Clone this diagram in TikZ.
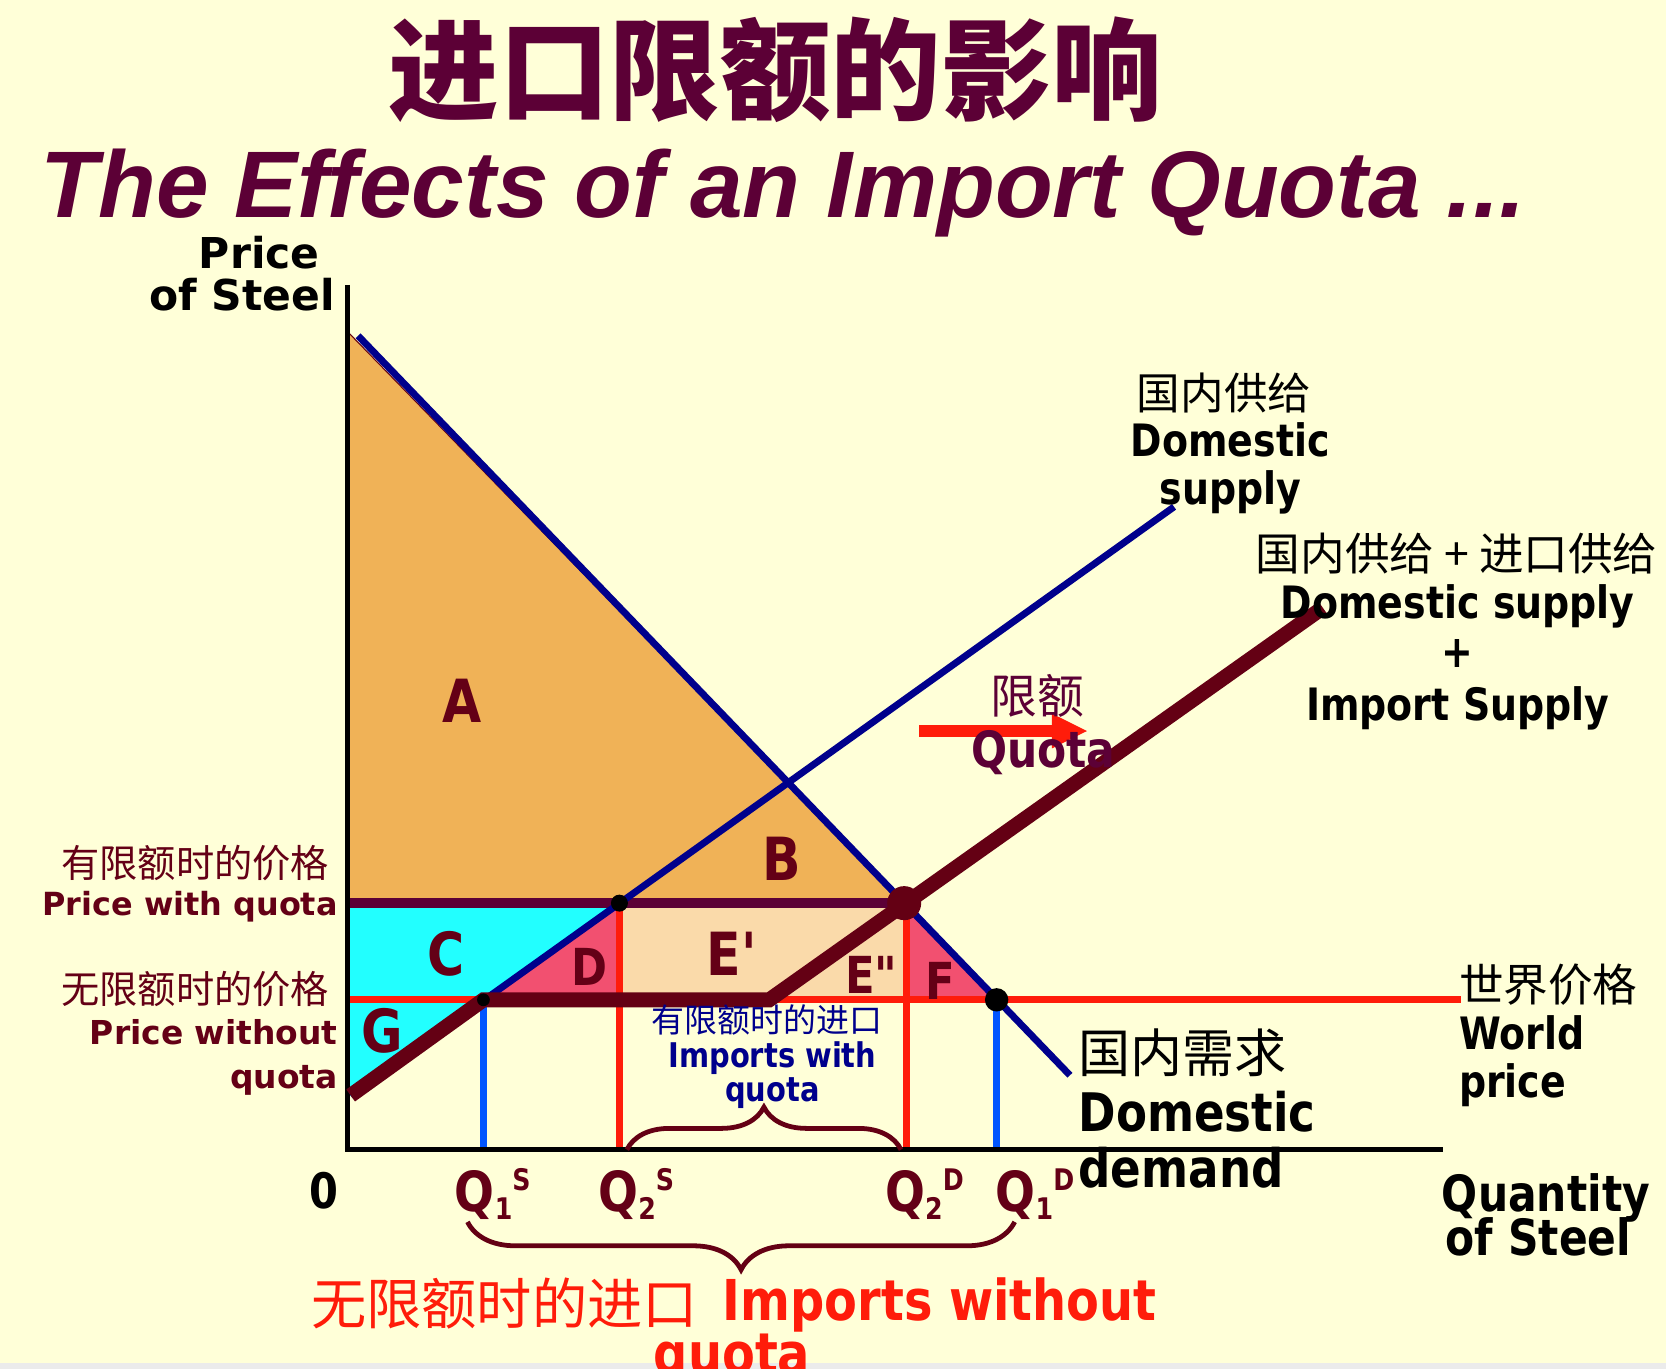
\documentclass[tikz,border=0pt]{standalone}
\usepackage{fontspec}
\setmainfont{DejaVu Sans}
\newfontfamily\tahoma{DejaVu Sans}[FakeStretch=0.85]
\newfontfamily\cjk{Noto Sans CJK SC}
\newfontfamily\arial{Liberation Sans}
\usetikzlibrary{arrows.meta,positioning,decorations.pathreplacing}

\definecolor{bgcol}{RGB}{255,255,216}
\definecolor{titlecol}{RGB}{92,0,54}
\definecolor{labelcol}{RGB}{100,0,22}
\definecolor{linemaroon}{RGB}{100,0,20}
\definecolor{navy}{RGB}{0,0,140}
\definecolor{wred}{RGB}{255,28,10}
\definecolor{qblue}{RGB}{0,85,255}
\definecolor{orangefill}{RGB}{240,178,87}
\definecolor{cyanfill}{RGB}{34,255,255}
\definecolor{pinkfill}{RGB}{242,80,112}
\definecolor{peachfill}{RGB}{250,218,170}

\newcommand{\fsz}[2]{\fontsize{#1}{#2}\selectfont}
\newcommand{\qlab}[2]{Q\raisebox{-8pt}{\fsz{28}{28}#1}\raisebox{20pt}{\fsz{28}{28}#2}}

\begin{document}
\begin{tikzpicture}[x=1pt,y=-1pt,
  every node/.style={inner sep=0pt},
  region/.style={font=\tahoma\bfseries\fsz{56}{56}, text=labelcol},
  smallregion/.style={font=\tahoma\bfseries\fsz{48}{48}, text=labelcol},
  qtick/.style={font=\tahoma\bfseries\fsz{52}{52}, text=labelcol, anchor=base west},
  cnlab/.style={font=\cjk\fsz{36}{36}},
  sidelab/.style={font=\bfseries\fsz{31}{31}, text=labelcol, anchor=base east},
  curvelab/.style={font=\tahoma\bfseries\fsz{42}{42}, anchor=base},
  axlab/.style={font=\tahoma\bfseries\fsz{47}{47}, anchor=base},
  thinline/.style={line width=7pt},
  impbrace/.style={decorate, decoration={brace, amplitude=40pt}, draw=linemaroon, line width=4.5pt}
]
\useasboundingbox (0,0) rectangle (1568,1288);
\fill[bgcol] (0,0) rectangle (1568,1288);
\fill[black!8] (0,1283) rectangle (1568,1288);

% key points of the diagram
\coordinate (O) at (327,1082);
\coordinate (ytop) at (327,268);
\coordinate (xend) at (1358,1082);
\coordinate (dA) at (337,316);
\coordinate (dB) at (1007,1012);
\coordinate (sA) at (330,1031);
\coordinate (sB) at (1105,477);
\coordinate (q1s) at (455,941);
\coordinate (q2s) at (583,850);
\coordinate (q2d) at (851,850);
\coordinate (q1d) at (938,941);
\coordinate (kink) at (724,941);
\coordinate (qsEnd) at (1245,572);
\coordinate (wpL) at (327,941);
\coordinate (wpR) at (1375,941);
\coordinate (pqL) at (327,850);

% surplus areas
\filldraw[fill=orangefill, draw=linemaroon, line width=1pt] (327,312) -- (q2d) -- (pqL) -- cycle;
\fill[cyanfill] (pqL) -- (q2s) -- (sA) -- (327,1036) -- cycle;
\fill[pinkfill] (q1s) -- (q2s) -- (q2s |- q1s) -- cycle;
\fill[peachfill] (q2s) rectangle (q2d |- q1s);
\fill[pinkfill] (q2d) -- (q1d) -- (q2d |- q1d) -- cycle;

% price lines and quantities
\draw[wred, line width=6.5pt] (wpL) -- (wpR);
\draw[qblue, thinline] (q1s) -- (q1s |- O);
\draw[wred, thinline] (q2s) -- (q2s |- O);
\draw[wred, thinline] ([xshift=2pt]q2d) -- ([xshift=2pt]q2d |- O);
\draw[qblue, thinline] (q1d) -- (q1d |- O);
\draw[titlecol, line width=9pt] (pqL) -- (q2d);

% axes
\draw[black, line width=4.5pt] (ytop) -- (O) -- (xend);

% curves
\draw[navy, line width=6.5pt] (dA) -- (dB);
\draw[navy, line width=6.5pt] (sA) -- (sB);
\draw[linemaroon, line width=14pt] (sA) -- (q1s) -- (kink) -- (qsEnd);

% equilibrium points
\fill (q2s) circle[radius=8pt];
\fill[linemaroon] (q2d) circle[radius=16pt];
\fill (q1d) circle[radius=11pt];
\fill (q1s) circle[radius=6pt];

% quota shift
\coordinate (qaStart) at (865,688);
\coordinate (qaEnd) at (1024,688);
\draw[wred, line width=11pt, -{Triangle[length=34pt,width=30pt]}] (qaStart) -- (qaEnd);

% braces
\coordinate (ibL) at (590,1082);
\coordinate (ibR) at (848,1082);
\draw[impbrace] (ibL) -- (ibR);
\coordinate (obL) at (440,1150);
\coordinate (obR) at (955,1150);
\draw[impbrace, decoration={amplitude=45pt}] (obR) -- (obL);

% titles
\node[font=\cjk\bfseries\fsz{104}{104}, text=titlecol] (titlecn) at (730,66) {进口限额的影响};
\node[font=\arial\bfseries\itshape\fsz{89}{89}, text=titlecol, anchor=base west] (titleen) at (38,205) {The Effects of an Import Quota ...};

% axis labels
\node[font=\bfseries\fsz{40}{40}, anchor=base] (ylabA) at (244,253) {Price};
\node[font=\bfseries\fsz{40}{40}, anchor=base] (ylabB) at (228,292) {of Steel};
\node[axlab] (xlabA) at (1455,1140) {Quantity};
\node[axlab] (xlabB) at (1448,1182) {of Steel};
\node[font=\tahoma\bfseries\fsz{46}{46}, anchor=base] (zero) at (305,1137) {0};
\node[qtick] (tq1s) at (428,1140) {\qlab{1}{S}};
\node[qtick] (tq2s) at (563,1140) {\qlab{2}{S}};
\node[qtick] (tq2d) at (833,1140) {\qlab{2}{D}};
\node[qtick] (tq1d) at (937,1140) {\qlab{1}{D}};

% price labels
\node[cnlab, text=labelcol, anchor=east] (pqcn) at (310,812) {有限额时的价格};
\node[sidelab, font=\bfseries\fsz{30}{30}] (pqen) at (318,862) {Price with quota};
\node[cnlab, text=labelcol, anchor=east] (pwcn) at (310,931) {无限额时的价格};
\node[sidelab] (pwenA) at (318,983) {Price without};
\node[sidelab] (pwenB) at (318,1024) {quota};

% curve labels
\node[cnlab, font=\cjk\fsz{41}{41}] (dscn) at (1152,370) {国内供给};
\node[curvelab] (dsA) at (1158,430) {Domestic};
\node[curvelab] (dsB) at (1158,475) {supply};
\node[cnlab, font=\cjk\fsz{42}{42}] (tscn) at (1371,521) {国内供给 + 进口供给};
\node[curvelab] (tsA) at (1372,582) {Domestic supply};
\node[curvelab] (tsB) at (1372,628) {+};
\node[curvelab] (tsC) at (1372,678) {Import Supply};
\node[cnlab, font=\cjk\fsz{42}{42}, anchor=west] (wpcn) at (1373,927) {世界价格};
\node[curvelab, anchor=base west] (wpA) at (1373,988) {World};
\node[curvelab, anchor=base west] (wpB) at (1373,1033) {price};
\node[cnlab, font=\cjk\fsz{49}{49}, anchor=west] (ddcn) at (1015,991) {国内需求};
\node[curvelab, font=\tahoma\bfseries\fsz{50}{50}, anchor=base west] (ddA) at (1015,1065) {Domestic};
\node[curvelab, font=\tahoma\bfseries\fsz{50}{50}, anchor=base west] (ddB) at (1015,1118) {demand};
\node[cnlab, font=\cjk\fsz{44}{44}, text=titlecol] (quotacn) at (976,655) {限额};
\node[curvelab, font=\tahoma\bfseries\fsz{47}{47}, text=titlecol] (quotaen) at (982,722) {Quota};

% area letters
\node[region] (rA) at (435,660) {A};
\node[region] (rB) at (736,808) {B};
\node[region] (rC) at (420,898) {C};
\node[smallregion] (rD) at (555,910) {D};
\node[region] (rE1) at (690,898) {E\textquotesingle};
\node[smallregion] (rE2) at (822,918) {E\textquotedbl};
\node[smallregion] (rF) at (885,923) {F};
\node[region] (rG) at (360,970) {G};

% import labels
\node[cnlab, font=\cjk\fsz{31}{31}, text=navy] (iwcn) at (722,960) {有限额时的进口};
\node[curvelab, font=\tahoma\bfseries\fsz{32}{32}, text=navy] (iwA) at (727,1005) {Imports with};
\node[curvelab, font=\tahoma\bfseries\fsz{32}{32}, text=navy] (iwB) at (727,1037) {quota};
\node[cnlab, font=\cjk\fsz{52}{52}, text=wred, anchor=east] (iocn) at (657,1227) {无限额时的进口};
\node[curvelab, font=\tahoma\bfseries\fsz{53}{53}, text=wred, anchor=base west] (ioA) at (680,1243) {Imports without};
\node[curvelab, font=\tahoma\bfseries\fsz{53}{53}, text=wred] (ioB) at (689,1293) {quota};
\end{tikzpicture}
\end{document}
